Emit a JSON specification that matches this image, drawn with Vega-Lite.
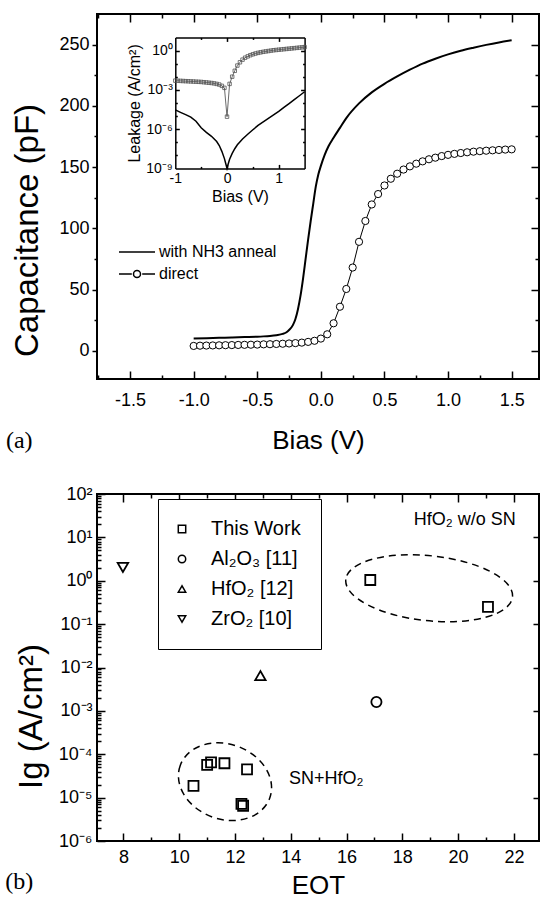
{
  "$schema": "https://vega.github.io/schema/vega-lite/v6.json",
  "padding": {"left": 4, "top": 12, "right": 0, "bottom": 0},
  "background": "white",
  "spacing": 30,
  "datasets": {
    "nh3": [{"bias":-1.0,"cap":10},{"bias":-0.9,"cap":10.3},{"bias":-0.8,"cap":10.6},{"bias":-0.7,"cap":10.9},{"bias":-0.6,"cap":11.2},{"bias":-0.5,"cap":11.5},{"bias":-0.45,"cap":11.8},{"bias":-0.4,"cap":12.2},{"bias":-0.35,"cap":12.8},{"bias":-0.3,"cap":13.8},{"bias":-0.27,"cap":15.2},{"bias":-0.25,"cap":17},{"bias":-0.22,"cap":21},{"bias":-0.2,"cap":26},{"bias":-0.18,"cap":34},{"bias":-0.16,"cap":45},{"bias":-0.14,"cap":59},{"bias":-0.12,"cap":75},{"bias":-0.1,"cap":91},{"bias":-0.08,"cap":106},{"bias":-0.06,"cap":120},{"bias":-0.04,"cap":134},{"bias":-0.02,"cap":144},{"bias":0.0,"cap":151},{"bias":0.03,"cap":160},{"bias":0.06,"cap":167},{"bias":0.1,"cap":174},{"bias":0.15,"cap":182},{"bias":0.2,"cap":190},{"bias":0.3,"cap":202},{"bias":0.4,"cap":211},{"bias":0.5,"cap":218},{"bias":0.6,"cap":224},{"bias":0.7,"cap":229.5},{"bias":0.8,"cap":234.5},{"bias":0.9,"cap":238.5},{"bias":1.0,"cap":242},{"bias":1.1,"cap":245},{"bias":1.2,"cap":247.5},{"bias":1.3,"cap":249.8},{"bias":1.4,"cap":251.8},{"bias":1.5,"cap":253.5}],
    "direct": [{"bias":-1.0,"cap":4.0},{"bias":-0.95,"cap":4.2},{"bias":-0.9,"cap":4.3},{"bias":-0.85,"cap":4.4},{"bias":-0.8,"cap":4.5},{"bias":-0.75,"cap":4.6},{"bias":-0.7,"cap":4.7},{"bias":-0.65,"cap":4.8},{"bias":-0.6,"cap":4.9},{"bias":-0.55,"cap":5.0},{"bias":-0.5,"cap":5.1},{"bias":-0.45,"cap":5.3},{"bias":-0.4,"cap":5.4},{"bias":-0.35,"cap":5.6},{"bias":-0.3,"cap":5.8},{"bias":-0.25,"cap":6.0},{"bias":-0.2,"cap":6.3},{"bias":-0.15,"cap":6.7},{"bias":-0.1,"cap":7.3},{"bias":-0.05,"cap":8.2},{"bias":0.0,"cap":10.0},{"bias":0.05,"cap":13.5},{"bias":0.1,"cap":22.5},{"bias":0.15,"cap":36},{"bias":0.2,"cap":50.5},{"bias":0.25,"cap":68},{"bias":0.3,"cap":89},{"bias":0.35,"cap":106},{"bias":0.4,"cap":119.5},{"bias":0.45,"cap":128},{"bias":0.5,"cap":135},{"bias":0.55,"cap":140.5},{"bias":0.6,"cap":144.6},{"bias":0.65,"cap":148},{"bias":0.7,"cap":150.6},{"bias":0.75,"cap":152.8},{"bias":0.8,"cap":154.7},{"bias":0.85,"cap":156.4},{"bias":0.9,"cap":157.7},{"bias":0.95,"cap":159},{"bias":1.0,"cap":160},{"bias":1.05,"cap":160.8},{"bias":1.1,"cap":161.5},{"bias":1.15,"cap":162.1},{"bias":1.2,"cap":162.6},{"bias":1.25,"cap":163},{"bias":1.3,"cap":163.4},{"bias":1.35,"cap":163.7},{"bias":1.4,"cap":164},{"bias":1.45,"cap":164.3},{"bias":1.5,"cap":164.5}],
    "leakDirect": [{"bias":-1.0,"j":5.01e-3},{"bias":-0.95,"j":4.90e-3},{"bias":-0.9,"j":4.79e-3},{"bias":-0.85,"j":4.68e-3},{"bias":-0.8,"j":4.57e-3},{"bias":-0.75,"j":4.47e-3},{"bias":-0.7,"j":4.37e-3},{"bias":-0.65,"j":4.27e-3},{"bias":-0.6,"j":4.17e-3},{"bias":-0.55,"j":4.07e-3},{"bias":-0.5,"j":3.98e-3},{"bias":-0.45,"j":3.80e-3},{"bias":-0.4,"j":3.63e-3},{"bias":-0.35,"j":3.47e-3},{"bias":-0.3,"j":3.31e-3},{"bias":-0.25,"j":3.09e-3},{"bias":-0.2,"j":2.82e-3},{"bias":-0.15,"j":2.51e-3},{"bias":-0.1,"j":2.00e-3},{"bias":-0.05,"j":1.41e-3},{"bias":0.0,"j":8.9e-6},{"bias":0.05,"j":2.82e-3},{"bias":0.1,"j":1.0e-2},{"bias":0.15,"j":2.82e-2},{"bias":0.2,"j":7.08e-2},{"bias":0.25,"j":0.126},{"bias":0.3,"j":0.2},{"bias":0.35,"j":0.282},{"bias":0.4,"j":0.355},{"bias":0.45,"j":0.437},{"bias":0.5,"j":0.513},{"bias":0.55,"j":0.589},{"bias":0.6,"j":0.661},{"bias":0.65,"j":0.724},{"bias":0.7,"j":0.794},{"bias":0.75,"j":0.851},{"bias":0.8,"j":0.912},{"bias":0.85,"j":0.977},{"bias":0.9,"j":1.047},{"bias":0.95,"j":1.096},{"bias":1.0,"j":1.148},{"bias":1.05,"j":1.202},{"bias":1.1,"j":1.259},{"bias":1.15,"j":1.318},{"bias":1.2,"j":1.38},{"bias":1.25,"j":1.445},{"bias":1.3,"j":1.514},{"bias":1.35,"j":1.585},{"bias":1.4,"j":1.66},{"bias":1.45,"j":1.738},{"bias":1.5,"j":1.82}],
    "leakNH3": [{"bias":-1.0,"j":2.9e-5},{"bias":-0.9,"j":1.9e-5},{"bias":-0.8,"j":1.26e-5},{"bias":-0.7,"j":8.3e-6},{"bias":-0.6,"j":4.0e-6},{"bias":-0.5,"j":1.26e-6},{"bias":-0.4,"j":5.6e-7},{"bias":-0.3,"j":2.8e-7},{"bias":-0.2,"j":1.12e-7},{"bias":-0.15,"j":5.6e-8},{"bias":-0.1,"j":2.0e-8},{"bias":-0.05,"j":5.6e-9},{"bias":-0.02,"j":2.0e-9},{"bias":0.0,"j":1.0e-9},{"bias":0.02,"j":2.0e-9},{"bias":0.05,"j":5.0e-9},{"bias":0.1,"j":1.41e-8},{"bias":0.15,"j":3.16e-8},{"bias":0.2,"j":6.3e-8},{"bias":0.3,"j":1.78e-7},{"bias":0.4,"j":4.0e-7},{"bias":0.5,"j":8.9e-7},{"bias":0.6,"j":1.9e-6},{"bias":0.7,"j":3.5e-6},{"bias":0.8,"j":6.6e-6},{"bias":0.9,"j":1.2e-5},{"bias":1.0,"j":2.24e-5},{"bias":1.1,"j":4.5e-5},{"bias":1.2,"j":8.9e-5},{"bias":1.3,"j":1.78e-4},{"bias":1.4,"j":3.5e-4},{"bias":1.5,"j":7.1e-4}],
    "legendTop": [{"series":"with NH3 anneal"},{"series":"direct"}],
    "eot": [{"eot":16.85,"ig":1.04,"material":"This Work"},{"eot":21.07,"ig":0.25,"material":"This Work"},{"eot":10.51,"ig":1.86e-5,"material":"This Work"},{"eot":11.0,"ig":5.7e-5,"material":"This Work"},{"eot":11.14,"ig":6.5e-5,"material":"This Work"},{"eot":11.62,"ig":6.2e-5,"material":"This Work"},{"eot":12.43,"ig":4.5e-5,"material":"This Work"},{"eot":12.29,"ig":6.5e-6,"material":"This Work"},{"eot":12.23,"ig":7.2e-6,"material":"This Work"},{"eot":17.07,"ig":1.6e-3,"material":"Al₂O₃ [11]"},{"eot":12.91,"ig":6.5e-3,"material":"HfO₂ [12]"},{"eot":7.98,"ig":2.03,"material":"ZrO₂ [10]"}],
    "ellipses": [{"eot":18.96,"ig":0.671,"group":"upper"},{"eot":11.64,"ig":2.33e-5,"group":"lower"}],
    "notes": [{"eot":20.24,"ig":25.5,"label":"HfO₂ w/o SN"},{"eot":15.27,"ig":2.72e-5,"label":"SN+HfO₂"}]
  },
  "vconcat": [
    {
      "width": 442,
      "height": 365,
      "title": {"text": "(a)", "orient": "bottom", "anchor": "start", "frame": "bounds", "font": "Liberation Serif", "fontSize": 24, "fontWeight": "normal", "color": "black", "offset": -24, "dx": -6},
      "resolve": {"scale": {"x": "independent", "y": "independent"}},
      "layer": [
        {
          "resolve": {"axis": {"x": "independent", "y": "independent"}},
          "layer": [
            {
              "data": {"name": "nh3"},
              "mark": {"type": "line", "color": "black", "strokeWidth": 2, "interpolate": "monotone"},
              "encoding": {
                "x": {"field": "bias", "type": "quantitative", "scale": {"domain": [-1.76, 1.715], "nice": false, "zero": false},
                  "axis": {"orient": "bottom", "values": [-1.5,-1,-0.5,0,0.5,1,1.5], "labelExpr": "replace(format(datum.value, '.1f'), '\u2212', '-')", "ticks": false, "labelPadding": 12, "labelFontSize": 18, "title": "Bias (V)", "titleFontSize": 26, "titlePadding": 18}},
                "y": {"field": "cap", "type": "quantitative", "scale": {"domain": [-23, 275], "nice": false, "zero": false},
                  "axis": {"orient": "left", "values": [0,50,100,150,200,250], "tickSize": 5, "labelPadding": 3, "labelFontSize": 18, "title": "Capacitance (pF)", "titleFontSize": 33, "titlePadding": 14, "titleY": 216}}
              }
            },
            {
              "data": {"name": "direct"},
              "mark": {"type": "line", "color": "black", "strokeWidth": 1},
              "encoding": {
                "x": {"field": "bias", "type": "quantitative",
                  "axis": {"orient": "bottom", "values": [-1.75,-1.5,-1.25,-1,-0.75,-0.5,-0.25,0,0.25,0.5,0.75,1,1.25,1.5], "labels": false, "title": null, "tickSize": {"condition": {"test": "abs(datum.value*2 - round(datum.value*2)) < 0.001", "value": -8}, "value": -4}}},
                "y": {"field": "cap", "type": "quantitative",
                  "axis": {"orient": "left", "values": [25,75,125,175,225], "labels": false, "title": null, "tickSize": 3}}
              }
            },
            {
              "data": {"name": "direct"},
              "mark": {"type": "point", "shape": "circle", "filled": true, "fill": "white", "stroke": "black", "strokeWidth": 1, "size": 52, "opacity": 1},
              "encoding": {
                "x": {"field": "bias", "type": "quantitative",
                  "axis": {"orient": "top", "values": [-1.75,-1.5,-1.25,-1,-0.75,-0.5,-0.25,0,0.25,0.5,0.75,1,1.25,1.5], "labels": false, "title": null, "tickSize": {"condition": {"test": "abs(datum.value*2 - round(datum.value*2)) < 0.001", "value": -8}, "value": -4}}},
                "y": {"field": "cap", "type": "quantitative",
                  "axis": {"orient": "right", "values": [0,25,50,75,100,125,150,175,200,225,250], "labels": false, "title": null, "tickSize": {"condition": {"test": "datum.value % 50 === 0", "value": -8}, "value": -4}}}
              }
            },
            {
              "data": {"name": "legendTop"},
              "mark": {"type": "point", "opacity": 0, "filled": false, "color": "black"},
              "encoding": {
                "shape": {"field": "series", "type": "nominal",
                  "scale": {"domain": ["with NH3 anneal", "direct"], "range": ["M-9,0H9", "M-9,0H-2.6M2.6,0H9M1.75,0A1.75,1.75,0,1,1,-1.75,0A1.75,1.75,0,1,1,1.75,0Z"]},
                  "legend": {"orient": "none", "legendX": 22, "legendY": 230, "title": null, "padding": 0, "rowPadding": 6, "labelFontSize": 16, "labelColor": "black", "symbolSize": 16, "symbolStrokeWidth": 1.5, "symbolStrokeColor": "black", "symbolFillColor": "white", "symbolOpacity": 1, "symbolOffset": 10, "labelOffset": 14}}
              }
            }
          ]
        },
        {
          "resolve": {"axis": {"x": "independent", "y": "independent"}},
          "layer": [
            {
              "data": {"name": "leakDirect"},
              "mark": {"type": "line", "color": "#444444", "strokeWidth": 0.8},
              "encoding": {
                "x": {"field": "bias", "type": "quantitative", "scale": {"domain": [-1, 1.5], "range": [78.3, 207.6], "nice": false, "zero": false},
                  "axis": {"orient": "bottom", "offset": -210.6, "values": [-1, 0, 1], "labelExpr": "replace(format(datum.value, 'd'), '\u2212', '-')", "ticks": false, "domain": true, "domainColor": "black", "domainWidth": 1.5, "labelFontSize": 14, "labelPadding": 3, "title": "Bias (V)", "titleFontSize": 16, "titlePadding": 3}},
                "y": {"field": "j", "type": "quantitative", "scale": {"type": "log", "domain": [1e-9, 10], "range": [154.4, 23.4], "nice": false},
                  "axis": {"orient": "left", "offset": -78.3, "values": [1e-9, 1e-6, 0.001, 1], "labelExpr": "'10' + ['⁻⁹','⁻⁶','⁻³','⁰'][round(log(datum.value)/LN10/3)+3]", "ticks": false, "domain": true, "domainColor": "black", "domainWidth": 1.5, "labelFontSize": 14, "labelPadding": 3, "title": "Leakage (A/cm²)", "titleFontSize": 16, "titlePadding": 3}}
              }
            },
            {
              "data": {"name": "leakDirect"},
              "mark": {"type": "point", "shape": "square", "filled": false, "stroke": "#555555", "strokeWidth": 0.8, "size": 12, "opacity": 1},
              "encoding": {
                "x": {"field": "bias", "type": "quantitative",
                  "axis": {"orient": "bottom", "offset": -210.6, "values": [-0.5, 0, 0.5, 1], "labels": false, "title": null, "tickSize": {"condition": {"test": "abs(datum.value - round(datum.value)) < 0.001", "value": -4}, "value": -2}}},
                "y": {"field": "j", "type": "quantitative",
                  "axis": {"orient": "left", "offset": -78.3, "values": [1e-8,1e-7,1e-6,1e-5,1e-4,0.001,0.01,0.1,1], "labels": false, "title": null, "tickSize": {"condition": {"test": "abs(log(datum.value)/LN10 - 3*round(log(datum.value)/LN10/3)) < 0.001", "value": -4}, "value": -2}}}
              }
            },
            {
              "data": {"name": "leakNH3"},
              "mark": {"type": "line", "color": "black", "strokeWidth": 1.5},
              "encoding": {
                "x": {"field": "bias", "type": "quantitative",
                  "axis": {"orient": "top", "offset": -23.4, "values": [-0.5, 0, 0.5, 1], "labels": false, "title": null, "domain": true, "domainColor": "black", "domainWidth": 1.5, "tickSize": {"condition": {"test": "abs(datum.value - round(datum.value)) < 0.001", "value": -4}, "value": -2}}},
                "y": {"field": "j", "type": "quantitative",
                  "axis": {"orient": "right", "offset": -234.4, "values": [1e-8,1e-7,1e-6,1e-5,1e-4,0.001,0.01,0.1,1], "labels": false, "title": null, "domain": true, "domainColor": "black", "domainWidth": 1.5, "tickSize": {"condition": {"test": "abs(log(datum.value)/LN10 - 3*round(log(datum.value)/LN10/3)) < 0.001", "value": -4}, "value": -2}}}
              }
            }
          ]
        }
      ]
    },
    {
      "width": 442,
      "height": 347,
      "title": {"text": "(b)", "orient": "bottom", "anchor": "start", "frame": "bounds", "font": "Liberation Serif", "fontSize": 24, "fontWeight": "normal", "color": "black", "offset": -28, "dx": -10},
      "resolve": {"axis": {"x": "independent", "y": "independent"}, "scale": {"shape": "independent"}},
      "layer": [
        {
          "data": {"name": "eot"},
          "mark": {"type": "point", "filled": false, "color": "black", "strokeWidth": 1.8, "opacity": 1},
          "encoding": {
            "x": {"field": "eot", "type": "quantitative", "scale": {"domain": [7.05, 22.9], "nice": false, "zero": false},
              "axis": {"orient": "bottom", "values": [8,10,12,14,16,18,20,22], "ticks": false, "labelPadding": 7, "labelFontSize": 18, "title": "EOT", "titleFontSize": 26, "titlePadding": 6}},
            "y": {"field": "ig", "type": "quantitative", "scale": {"type": "log", "domain": [1e-6, 100], "nice": false},
              "axis": {"orient": "left", "values": [1e-6,1e-5,1e-4,0.001,0.01,0.1,1,10,100], "labelExpr": "'10' + ['⁻⁶','⁻⁵','⁻⁴','⁻³','⁻²','⁻¹','⁰','¹','²'][round(log(datum.value)/LN10)+6]", "ticks": false, "labelPadding": 5, "labelFontSize": 18, "title": "Ig (A/cm²)", "titleFontSize": 33, "titlePadding": 10, "titleY": 222}},
            "shape": {"field": "material", "type": "nominal",
              "scale": {"domain": ["This Work", "Al₂O₃ [11]", "HfO₂ [12]", "ZrO₂ [10]"], "range": ["square", "circle", "triangle-up", "triangle-down"]},
              "legend": {"orient": "none", "legendX": 61, "legendY": 5, "title": null, "strokeColor": "black", "fillColor": "white", "padding": 20, "rowPadding": 10, "labelFontSize": 20, "labelColor": "black", "symbolSize": 55, "symbolStrokeWidth": 1.5, "symbolStrokeColor": "black", "symbolFillColor": "white", "symbolOpacity": 1, "symbolOffset": -6, "labelOffset": 19}},
            "size": {"field": "material", "type": "nominal",
              "scale": {"domain": ["This Work", "Al₂O₃ [11]", "HfO₂ [12]", "ZrO₂ [10]"], "range": [100, 110, 200, 200]}, "legend": null}
          }
        },
        {
          "data": {"name": "ellipses"},
          "mark": {"type": "point", "filled": false, "color": "black", "strokeWidth": 1.5, "strokeDash": [7, 5], "size": 10000, "opacity": 1},
          "encoding": {
            "x": {"field": "eot", "type": "quantitative",
              "axis": {"orient": "bottom", "values": [8,9,10,11,12,13,14,15,16,17,18,19,20,21,22], "labels": false, "title": null, "tickSize": {"condition": {"test": "datum.value % 2 === 0", "value": -8}, "value": -4}}},
            "y": {"field": "ig", "type": "quantitative",
              "axis": {"orient": "left", "values": [1e-6,2e-6,3e-6,4e-6,5e-6,6e-6,7e-6,8e-6,9e-6,1e-5,2e-5,3e-5,4e-5,5e-5,6e-5,7e-5,8e-5,9e-5,1e-4,2e-4,3e-4,4e-4,5e-4,6e-4,7e-4,8e-4,9e-4,0.001,0.002,0.003,0.004,0.005,0.006,0.007,0.008,0.009,0.01,0.02,0.03,0.04,0.05,0.06,0.07,0.08,0.09,0.1,0.2,0.3,0.4,0.5,0.6,0.7,0.8,0.9,1,2,3,4,5,6,7,8,9,10,20,30,40,50,60,70,80,90,100], "labels": false, "title": null, "tickSize": {"condition": {"test": "abs(log(datum.value)/LN10 - round(log(datum.value)/LN10)) < 0.001", "value": -8}, "value": -4}}},
            "shape": {"field": "group", "type": "nominal",
              "scale": {"domain": ["upper", "lower"], "range": ["M-1.667,-0.175A1.676,0.65,6,1,0,1.667,0.175A1.676,0.65,6,1,0,-1.667,-0.175Z", "M-0.895,-0.326A0.952,0.75,20,1,0,0.895,0.326A0.952,0.75,20,1,0,-0.895,-0.326Z"]}, "legend": null}
          }
        },
        {
          "data": {"name": "notes"},
          "mark": {"type": "text", "fontSize": 18, "color": "black", "align": "center", "baseline": "middle", "font": "Liberation Sans"},
          "encoding": {
            "x": {"field": "eot", "type": "quantitative",
              "axis": {"orient": "top", "values": [8,9,10,11,12,13,14,15,16,17,18,19,20,21,22], "labels": false, "title": null, "tickSize": {"condition": {"test": "datum.value % 2 === 0", "value": -8}, "value": -4}}},
            "y": {"field": "ig", "type": "quantitative",
              "axis": {"orient": "right", "values": [1e-5,1e-4,0.001,0.01,0.1,1,10], "labels": false, "title": null, "tickSize": -6}},
            "text": {"field": "label"}
          }
        }
      ]
    }
  ],
  "config": {
    "font": "Liberation Sans",
    "view": {"stroke": "black", "strokeWidth": 2},
    "axis": {"domain": false, "grid": false, "labelColor": "black", "titleColor": "black", "tickColor": "black", "tickWidth": 1.5, "domainColor": "black", "titleFontWeight": "normal", "labelFlush": false, "labelOverlap": false, "minExtent": 0, "labelFont": "Liberation Sans", "titleFont": "Liberation Sans"},
    "legend": {"labelFont": "Liberation Sans"},
    "text": {"font": "Liberation Sans"}
  }
}
